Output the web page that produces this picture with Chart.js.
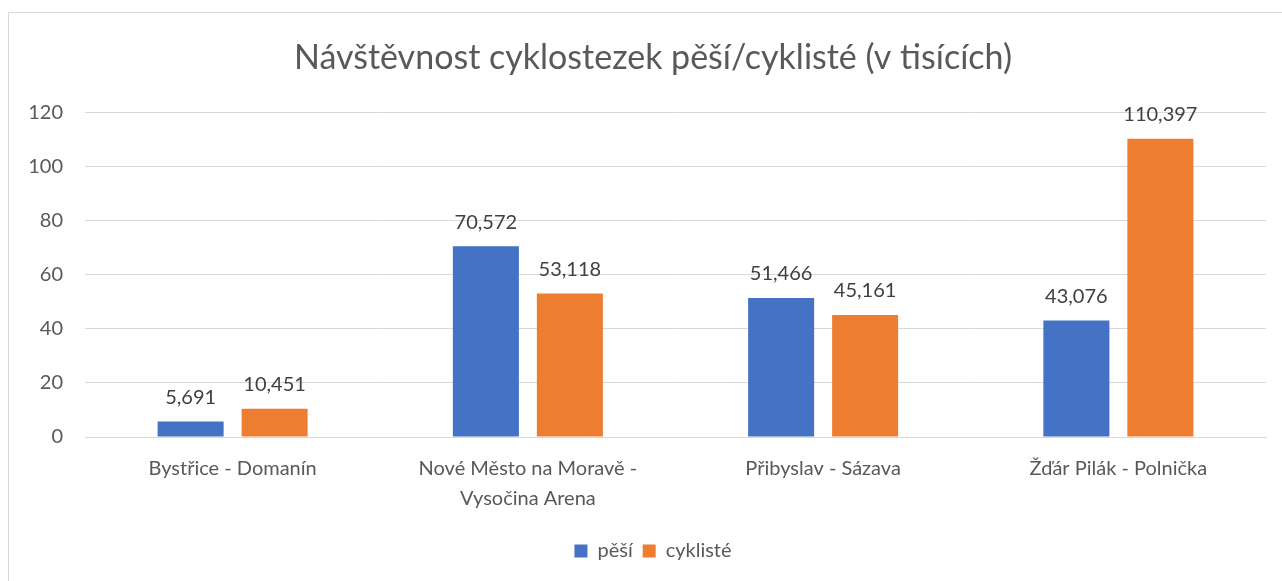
<!DOCTYPE html>
<html lang="cs">
<head>
    <meta charset="UTF-8">
    <title>Návštěvnost cyklostezek</title>
    <script src="https://cdn.jsdelivr.net/npm/chart.js"></script>
    <style>
        html, body {
            margin: 0;
            padding: 0;
            background: #fff;
            overflow: hidden;
        }
        #frame {
            position: absolute;
            left: 8px;
            top: 12px;
            width: 1400px;
            height: 700px;
            border: 1px solid #d9d9d9;
        }
        #chartBox {
            position: absolute;
            left: 0;
            top: 0;
            width: 1282px;
            height: 581px;
        }
    </style>
</head>
<body>
    <div id="frame"></div>
    <div id="chartBox">
        <canvas id="visitChart"></canvas>
    </div>

    <script>
        // data (v tisících)
        const categories = [
            'Bystřice - Domanín',
            ['Nové Město na Moravě -', 'Vysočina Arena'],
            'Přibyslav - Sázava',
            'Žďár Pilák - Polnička'
        ];
        const pesi = [5.691, 70.572, 51.466, 43.076];
        const cykliste = [10.451, 53.118, 45.161, 110.397];
        const yTicks = [0, 20, 40, 60, 80, 100, 120];

        const fontName = 'Lato, "Open Sans", sans-serif';
        const textGray = '#595959';
        const gridGray = '#d9d9d9';

        // hodnoty nad sloupci
        const valueLabels = {
            id: 'valueLabels',
            afterDatasetsDraw(chart) {
                const ctx = chart.ctx;
                ctx.save();
                ctx.font = '20px ' + fontName;
                ctx.fillStyle = '#404040';
                ctx.textAlign = 'center';
                ctx.textBaseline = 'bottom';
                chart.data.datasets.forEach((ds, i) => {
                    chart.getDatasetMeta(i).data.forEach((bar, j) => {
                        const txt = ds.data[j].toFixed(3).replace('.', ',');
                        ctx.fillText(txt, bar.x, bar.y - 14);
                    });
                });
                ctx.restore();
            }
        };

        // popisky osy y nesmí být oříznuty levým okrajem
        const widenYAxis = {
            id: 'widenYAxis',
            afterLayout(chart) {
                chart.scales.y.left = 0;
            }
        };

        const ctx = document.getElementById('visitChart').getContext('2d');
        new Chart(ctx, {
            type: 'bar',
            data: {
                labels: categories,
                datasets: [
                    {
                        label: 'pěší',
                        data: pesi,
                        backgroundColor: '#4472C4',
                        categoryPercentage: 0.569,
                        barPercentage: 0.786
                    },
                    {
                        label: 'cyklisté',
                        data: cykliste,
                        backgroundColor: '#ED7D31',
                        categoryPercentage: 0.569,
                        barPercentage: 0.786
                    }
                ]
            },
            options: {
                responsive: true,
                maintainAspectRatio: false,
                animation: false,
                layout: {
                    padding: { left: 40, right: 16, top: 20, bottom: 10 }
                },
                plugins: {
                    title: {
                        display: true,
                        text: 'Návštěvnost cyklostezek pěší/cyklisté (v tisících)',
                        color: textGray,
                        font: { family: fontName, size: 34, weight: 'normal' },
                        padding: { top: 18, bottom: 34 }
                    },
                    legend: {
                        position: 'bottom',
                        labels: {
                            color: textGray,
                            font: { family: fontName, size: 20 },
                            boxWidth: 13,
                            boxHeight: 13,
                            padding: 10
                        }
                    },
                    tooltip: { enabled: false }
                },
                scales: {
                    x: {
                        grid: { display: false, drawTicks: false },
                        border: { color: gridGray },
                        ticks: {
                            color: textGray,
                            font: { family: fontName, size: 20, lineHeight: 1.5 },
                            padding: 17,
                            maxRotation: 0,
                            autoSkip: false
                        }
                    },
                    y: {
                        min: 0,
                        max: 120,
                        afterBuildTicks(scale) {
                            scale.ticks = yTicks.map(v => ({ value: v }));
                        },
                        afterFit(scale) {
                            scale.width = 45;
                        },
                        grid: { color: gridGray, drawTicks: false },
                        border: { display: false },
                        ticks: {
                            color: textGray,
                            font: { family: fontName, size: 20 },
                            padding: 22
                        }
                    }
                }
            },
            plugins: [valueLabels, widenYAxis]
        });
    </script>
</body>
</html>
